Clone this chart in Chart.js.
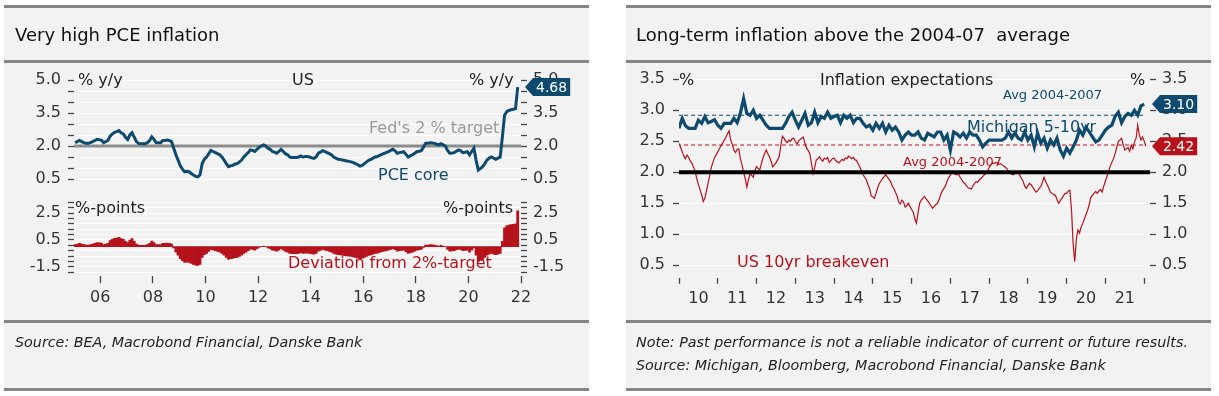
<!DOCTYPE html>
<html>
<head>
<meta charset="utf-8">
<script src="https://cdn.jsdelivr.net/npm/chart.js@4.4.0/dist/chart.umd.min.js"></script>
<style>
  html, body { margin: 0; padding: 0; background: #fff; }
  #page { position: relative; width: 1219px; height: 396px; overflow: hidden; font-family: "DejaVu Sans", sans-serif; }
  .panel { position: absolute; top: 5px; height: 385px; width: 585px; background: #f2f2f2; }
  .rule { position: absolute; height: 3px; width: 585px; background: #858585; }
  canvas { position: absolute; left: 0; top: 0; }
  .t { position: absolute; white-space: pre; font-size: 16px; line-height: 16px; color: #222; }
  .title { font-size: 18px; line-height: 18px; color: #111; }
  .src { font-size: 14.3px; line-height: 16px; font-style: italic; color: #222; }
  .blue { color: #0e4a6e; }
  .red { color: #b5121b; }
  .grey { color: #9a9a9a; }
  .small { font-size: 13px; line-height: 13px; }
</style>
</head>
<body>
<div id="page">
  <div class="panel" style="left:4px"></div>
  <div class="panel" style="left:626px"></div>

  <div class="rule" style="left:4px;top:5px"></div>
  <div class="rule" style="left:4px;top:60px"></div>
  <div class="rule" style="left:4px;top:320px"></div>
  <div class="rule" style="left:4px;top:388px"></div>
  <div class="rule" style="left:626px;top:5px"></div>
  <div class="rule" style="left:626px;top:60px"></div>
  <div class="rule" style="left:626px;top:320px"></div>
  <div class="rule" style="left:626px;top:388px"></div>

  <canvas id="pceChart" width="1219" height="396"></canvas>
  <canvas id="devChart" width="1219" height="396"></canvas>
  <canvas id="expChart" width="1219" height="396"></canvas>

  <div class="t title" style="left:15px;top:26px">Very high PCE inflation</div>
  <div class="t title" style="left:636px;top:26px">Long-term inflation above the 2004-07  average</div>

  <div class="t" style="left:78px;top:72px">% y/y</div>
  <div class="t" style="left:292px;top:72px">US</div>
  <div class="t" style="left:469px;top:72px">% y/y</div>
  <div class="t grey" style="left:369px;top:120px">Fed's 2 % target</div>
  <div class="t blue" style="left:378px;top:167px">PCE core</div>
  <div class="t" style="left:75px;top:200px">%-points</div>
  <div class="t" style="left:443px;top:200px">%-points</div>
  <div class="t red" style="left:288px;top:255px">Deviation from 2%-target</div>

  <div class="t" style="left:679px;top:72px">%</div>
  <div class="t" style="left:820px;top:72px">Inflation expectations</div>
  <div class="t" style="left:1130px;top:72px">%</div>
  <div class="t blue small" style="left:1003px;top:88px">Avg 2004-2007</div>
  <div class="t blue" style="left:967px;top:119px">Michigan 5-10yr</div>
  <div class="t red small" style="left:903px;top:155px">Avg 2004-2007</div>
  <div class="t red" style="left:737px;top:254px">US 10yr breakeven</div>

  <div class="t src" style="left:15px;top:334px">Source: BEA, Macrobond Financial, Danske Bank</div>
  <div class="t src" style="left:636px;top:334px">Note: Past performance is not a reliable indicator of current or future results.</div>
  <div class="t src" style="left:636px;top:357px">Source: Michigan, Bloomberg, Macrobond Financial, Danske Bank</div>
</div>

<script>
// US core PCE, % y/y, monthly from Jan 2005 to Nov 2021
const pceCore = [
  2.15, 2.20, 2.25, 2.20, 2.15, 2.12, 2.12, 2.15, 2.20, 2.25, 2.30, 2.28, // 2005
  2.27, 2.15, 2.20, 2.25, 2.45, 2.55, 2.62, 2.65, 2.70, 2.60, 2.55, 2.40, // 2006
  2.30, 2.50, 2.60, 2.40, 2.20, 2.12, 2.10, 2.10, 2.10, 2.15, 2.25, 2.42, // 2007
  2.30, 2.15, 2.15, 2.15, 2.25, 2.25, 2.27, 2.25, 2.20, 1.90, 1.60, 1.36, // 2008
  1.10, 0.95, 0.83, 0.85, 0.83, 0.75, 0.68, 0.62, 0.60, 0.68, 1.20, 1.40, // 2009
  1.50, 1.65, 1.80, 1.75, 1.70, 1.65, 1.60, 1.50, 1.36, 1.20, 1.06, 1.10, // 2010
  1.12, 1.18, 1.20, 1.28, 1.36, 1.50, 1.60, 1.70, 1.82, 1.80, 1.75, 1.85, // 2011
  1.94, 2.00, 2.05, 2.00, 1.90, 1.85, 1.75, 1.72, 1.67, 1.75, 1.85, 1.75, // 2012
  1.65, 1.60, 1.50, 1.48, 1.48, 1.48, 1.50, 1.55, 1.50, 1.52, 1.52, 1.50, // 2013
  1.46, 1.44, 1.50, 1.67, 1.72, 1.79, 1.75, 1.70, 1.65, 1.60, 1.50, 1.45, // 2014
  1.40, 1.39, 1.36, 1.34, 1.32, 1.30, 1.28, 1.24, 1.20, 1.15, 1.09, 1.12, // 2015
  1.20, 1.28, 1.35, 1.39, 1.45, 1.50, 1.52, 1.58, 1.62, 1.66, 1.70, 1.74, // 2016
  1.80, 1.85, 1.78, 1.67, 1.70, 1.72, 1.74, 1.62, 1.50, 1.55, 1.60, 1.67, // 2017
  1.74, 1.76, 1.79, 1.95, 2.12, 2.12, 2.15, 2.14, 2.12, 2.08, 2.05, 2.10, // 2018
  2.05, 2.00, 1.80, 1.67, 1.68, 1.70, 1.76, 1.82, 1.78, 1.70, 1.72, 1.74, // 2019
  1.60, 1.75, 1.90, 1.36, 0.91, 0.98, 1.06, 1.20, 1.36, 1.45, 1.50, 1.45, // 2020
  1.40, 1.45, 1.50, 2.40, 3.40, 3.56, 3.62, 3.65, 3.67, 3.70, 4.68        // 2021
];
const pceStartYear = 2005;
const fedTarget = 2.0;
const pceTicks = [0.5, 1.0, 1.5, 2.0, 2.5, 3.0, 3.5, 4.0, 4.5, 5.0];
const pceTickLabels = [0.5, 2.0, 3.5, 5.0];
const devTicks = [3.3, 2.9, 2.5, 2.1, 1.7, 1.3, 0.9, 0.5, 0.1, -0.3, -0.7, -1.1, -1.5, -1.9];
const devTickLabels = [2.5, 0.5, -1.5];
const pceYearTicks = [2006, 2008, 2010, 2012, 2014, 2016, 2018, 2020, 2022];

// Michigan 5-10yr inflation expectations, monthly Jan 2010 - Jan 2022
const michigan = [
  2.71, 2.87, 2.75, 2.71, 2.71, 2.71, 2.84, 2.79, 2.90, 2.80, 2.82, 2.85, // 2010
  2.76, 2.71, 2.79, 2.79, 2.79, 2.87, 2.80, 2.95, 3.19, 2.95, 2.92, 3.00, // 2011
  2.87, 2.92, 2.84, 2.76, 2.71, 2.71, 2.71, 2.71, 2.71, 2.79, 2.90, 2.97, // 2012
  2.84, 2.73, 2.84, 2.95, 2.76, 2.80, 2.97, 2.80, 2.90, 2.87, 2.97, 2.87, // 2013
  2.90, 2.92, 2.80, 2.92, 2.87, 2.92, 2.80, 2.87, 2.87, 2.79, 2.73, 2.76, // 2014
  2.68, 2.79, 2.71, 2.79, 2.65, 2.76, 2.68, 2.73, 2.65, 2.52, 2.60, 2.65, // 2015
  2.60, 2.60, 2.65, 2.55, 2.52, 2.63, 2.60, 2.57, 2.65, 2.65, 2.52, 2.60, // 2016
  2.36, 2.65, 2.62, 2.57, 2.63, 2.55, 2.65, 2.60, 2.60, 2.52, 2.41, 2.47, // 2017
  2.52, 2.52, 2.52, 2.52, 2.52, 2.55, 2.65, 2.55, 2.63, 2.55, 2.52, 2.65, // 2018
  2.52, 2.60, 2.41, 2.63, 2.47, 2.55, 2.39, 2.52, 2.44, 2.55, 2.36, 2.26, // 2019
  2.39, 2.31, 2.41, 2.52, 2.68, 2.60, 2.73, 2.65, 2.57, 2.49, 2.52, 2.60, // 2020
  2.68, 2.73, 2.76, 2.90, 2.97, 2.80, 2.90, 2.95, 2.92, 3.00, 2.92, 3.07, // 2021
  3.10                                                                    // 2022
];

// US 10yr breakeven inflation, twice a month Jan 2010 - Jan 2022
const breakeven = [
  2.47, 2.40, 2.33, 2.26, 2.22, 2.28, 2.24, 2.18, 2.15, 2.08, 2.02, 1.90,
  1.80, 1.72, 1.64, 1.53, 1.58, 1.70, 1.82, 1.95, 2.08, 2.16, 2.24, 2.28, // 2010
  2.33, 2.38, 2.43, 2.47, 2.52, 2.56, 2.62, 2.67, 2.52, 2.45, 2.36, 2.32,
  2.37, 2.38, 2.22, 2.12, 2.00, 1.90, 1.76, 1.88, 1.98, 1.95, 1.92, 2.03, // 2011
  2.09, 2.06, 2.04, 2.14, 2.23, 2.30, 2.36, 2.30, 2.25, 2.18, 2.09, 2.12,
  2.15, 2.20, 2.25, 2.42, 2.58, 2.55, 2.50, 2.48, 2.52, 2.50, 2.54, 2.55, // 2012
  2.50, 2.46, 2.50, 2.53, 2.55, 2.57, 2.46, 2.39, 2.35, 2.30, 2.15, 1.98,
  2.08, 2.20, 2.22, 2.25, 2.21, 2.18, 2.23, 2.21, 2.24, 2.16, 2.19, 2.22, // 2013
  2.23, 2.19, 2.17, 2.15, 2.18, 2.21, 2.19, 2.23, 2.22, 2.26, 2.24, 2.22,
  2.24, 2.20, 2.19, 2.13, 2.08, 2.02, 1.96, 1.92, 1.88, 1.80, 1.74, 1.62, // 2014
  1.60, 1.58, 1.66, 1.75, 1.82, 1.86, 1.90, 1.93, 1.96, 1.92, 1.89, 1.85,
  1.78, 1.74, 1.68, 1.62, 1.52, 1.49, 1.55, 1.52, 1.44, 1.46, 1.50, 1.45, // 2015
  1.40, 1.36, 1.25, 1.18, 1.35, 1.50, 1.55, 1.58, 1.61, 1.57, 1.54, 1.50,
  1.46, 1.42, 1.45, 1.48, 1.50, 1.56, 1.64, 1.70, 1.74, 1.78, 1.86, 1.92, // 2016
  1.95, 2.00, 1.98, 1.97, 1.96, 1.98, 1.92, 1.88, 1.84, 1.82, 1.78, 1.75,
  1.74, 1.73, 1.78, 1.82, 1.85, 1.84, 1.88, 1.90, 1.93, 1.96, 1.98, 2.02, // 2017
  2.08, 2.12, 2.15, 2.14, 2.16, 2.15, 2.13, 2.14, 2.12, 2.10, 2.08, 2.06,
  2.00, 1.98, 1.97, 1.96, 1.98, 2.01, 2.00, 1.95, 1.90, 1.86, 1.78, 1.74, // 2018
  1.78, 1.82, 1.80, 1.76, 1.72, 1.68, 1.70, 1.74, 1.77, 1.84, 1.92, 1.85,
  1.80, 1.74, 1.68, 1.66, 1.64, 1.63, 1.56, 1.50, 1.54, 1.58, 1.62, 1.66, // 2019
  1.66, 1.70, 1.71, 1.40, 0.85, 0.56, 0.92, 1.07, 1.02, 1.12, 1.18, 1.25,
  1.32, 1.39, 1.48, 1.60, 1.63, 1.66, 1.69, 1.66, 1.70, 1.72, 1.68, 1.78, // 2020
  1.86, 1.94, 2.02, 2.10, 2.16, 2.22, 2.30, 2.40, 2.50, 2.52, 2.55, 2.44,
  2.36, 2.38, 2.40, 2.34, 2.44, 2.38, 2.49, 2.55, 2.76, 2.60, 2.52, 2.57, // 2021
  2.50, 2.42                                                              // 2022
];
const expStartYear = 2010;
const avgMichigan = 2.92;
const avgBreakeven = 2.44;
const expTicks = [0.5, 1.0, 1.5, 2.0, 2.5, 3.0, 3.5];
const expYearTicks = [2010, 2011, 2012, 2013, 2014, 2015, 2016, 2017, 2018, 2019, 2020, 2021, 2022];

const BLUE = '#0e4a6e';
const RED = '#b5121b';
const TICK_FONT = { family: 'DejaVu Sans', size: 16 };

const pcePoints = pceCore.map((v, i) => ({ x: pceStartYear + (i + 0.5) / 12, y: v }));
const devPoints = pceCore.map((v, i) => ({ x: pceStartYear + (i + 0.5) / 12, y: v - fedTarget }));
const michPoints = michigan.map((v, i) => ({ x: expStartYear + i / 12, y: v }));
const bePoints = breakeven.map((v, i) => ({ x: expStartYear + i / 24, y: v }));

const has = (list, v) => list.some(l => Math.abs(l - v) < 1e-6);
const setTicks = list => s => { s.ticks = list.map(v => ({ value: v })); };

function yAxis(side, min, max, ticks, labels, width, pad) {
  return {
    type: 'linear', position: side, min: min, max: max,
    afterBuildTicks: setTicks(ticks),
    afterFit: s => { s.width = width; },
    border: { display: false },
    grid: {
      color: '#ffffff', lineWidth: 1, drawOnChartArea: side === 'left',
      tickColor: '#444', tickLength: 6, tickWidth: 1.3
    },
    ticks: {
      font: TICK_FONT, color: '#333', padding: pad, autoSkip: false,
      callback: v => has(labels, v) ? v.toFixed(1) : ''
    }
  };
}

// boxed value tag with an arrow, right of the plot
function endTag(items) {
  return {
    id: 'endTag',
    afterDraw(chart) {
      const ctx = chart.ctx, area = chart.chartArea, ys = chart.scales.y;
      items.forEach(it => {
        const data = chart.data.datasets[it.ds].data;
        const v = data[data.length - 1].y;
        const y = ys.getPixelForValue(v);
        const x0 = area.right + it.gap;
        const txt = v.toFixed(2);
        ctx.save();
        ctx.font = '14px "DejaVu Sans"';
        const w = ctx.measureText(txt).width + 6;
        const h = 18;
        ctx.fillStyle = it.color;
        ctx.beginPath();
        ctx.moveTo(x0, y);
        ctx.lineTo(x0 + 8, y - h / 2);
        ctx.lineTo(x0 + 8 + w, y - h / 2);
        ctx.lineTo(x0 + 8 + w, y + h / 2);
        ctx.lineTo(x0 + 8, y + h / 2);
        ctx.closePath();
        ctx.fill();
        ctx.fillStyle = '#fff';
        ctx.textAlign = 'center';
        ctx.textBaseline = 'middle';
        ctx.fillText(txt, x0 + 8 + w / 2, y + 1);
        ctx.restore();
      });
    }
  };
}

const common = {
  responsive: false,
  animation: false,
  devicePixelRatio: 1,
  plugins: { legend: { display: false }, tooltip: { enabled: false } }
};

// PCE core line
new Chart(document.getElementById('pceChart'), {
  type: 'line',
  data: {
    datasets: [
      { data: pcePoints, borderColor: BLUE, borderWidth: 3, pointRadius: 0, tension: 0, order: 1 },
      { data: [{ x: 2005, y: fedTarget }, { x: 2022, y: fedTarget }], borderColor: '#8c8c8c', borderWidth: 3, pointRadius: 0, order: 2 }
    ]
  },
  options: Object.assign({}, common, {
    layout: { padding: { left: 0, right: 0, top: 71.2, bottom: 212.6 } },
    scales: {
      x: { type: 'linear', min: 2005, max: 2022, display: false },
      y: yAxis('left', 0.3, 5.4, pceTicks, pceTickLabels, 74, 7),
      y2: yAxis('right', 0.3, 5.4, pceTicks, pceTickLabels, 698, 6)
    }
  }),
  plugins: [endTag([{ ds: 0, color: BLUE, gap: 4 }])]
});

// deviation from target bars
new Chart(document.getElementById('devChart'), {
  type: 'bar',
  data: {
    datasets: [{ data: devPoints, backgroundColor: RED, borderWidth: 0, barPercentage: 1, categoryPercentage: 1 }]
  },
  options: Object.assign({}, common, {
    layout: { padding: { left: 0, right: 0, top: 201.1, bottom: 89.8 } },
    scales: {
      x: {
        type: 'linear', min: 2005, max: 2022, offset: false,
        afterBuildTicks: setTicks(pceYearTicks),
        afterFit: s => { s.height = 30; },
        border: { display: false },
        grid: { offset: false, drawOnChartArea: false, tickColor: '#444', tickLength: 7, tickWidth: 1.3 },
        ticks: {
          font: TICK_FONT, color: '#333', padding: 5, autoSkip: false, maxRotation: 0,
          callback: v => String(v % 100).padStart(2, '0')
        }
      },
      y: yAxis('left', -2.2, 3.4, devTicks, devTickLabels, 74, 7),
      y2: yAxis('right', -2.2, 3.4, devTicks, devTickLabels, 698, 6)
    }
  })
});

// inflation expectations
new Chart(document.getElementById('expChart'), {
  type: 'line',
  data: {
    datasets: [
      { data: michPoints, borderColor: BLUE, borderWidth: 3.2, pointRadius: 0, tension: 0, order: 1 },
      { data: bePoints, borderColor: RED, borderWidth: 1.2, pointRadius: 0, tension: 0, order: 3 },
      { data: [{ x: 2009.9, y: 2.0 }, { x: 2022.2, y: 2.0 }], borderColor: '#000', borderWidth: 4, pointRadius: 0, order: 2 },
      { data: [{ x: 2009.95, y: avgMichigan }, { x: 2022.02, y: avgMichigan }], borderColor: BLUE, borderWidth: 1, borderDash: [4, 3], pointRadius: 0, order: 4 },
      { data: [{ x: 2009.95, y: avgBreakeven }, { x: 2022.02, y: avgBreakeven }], borderColor: RED, borderWidth: 1, borderDash: [4, 3], pointRadius: 0, order: 4 }
    ]
  },
  options: Object.assign({}, common, {
    layout: { padding: { left: 0, right: 0, top: 73.1, bottom: 88.3 } },
    scales: {
      x: {
        type: 'linear', min: 2010, max: 2022.15,
        afterBuildTicks: setTicks(expYearTicks),
        afterFit: s => { s.height = 30; },
        border: { display: false },
        grid: { drawOnChartArea: false, tickColor: '#444', tickLength: 6, tickWidth: 1.3 },
        ticks: {
          font: TICK_FONT, color: '#333', padding: 6, autoSkip: false, maxRotation: 0, labelOffset: 19.4,
          callback: v => v === 2022 ? '' : String(v % 100).padStart(2, '0')
        }
      },
      y: yAxis('left', 0.3, 3.6, expTicks, expTicks, 679, 8),
      y2: yAxis('right', 0.3, 3.6, expTicks, expTicks, 69, 6)
    }
  }),
  plugins: [endTag([{ ds: 0, color: BLUE, gap: 2 }, { ds: 1, color: RED, gap: 2 }])]
});
</script>
</body>
</html>
